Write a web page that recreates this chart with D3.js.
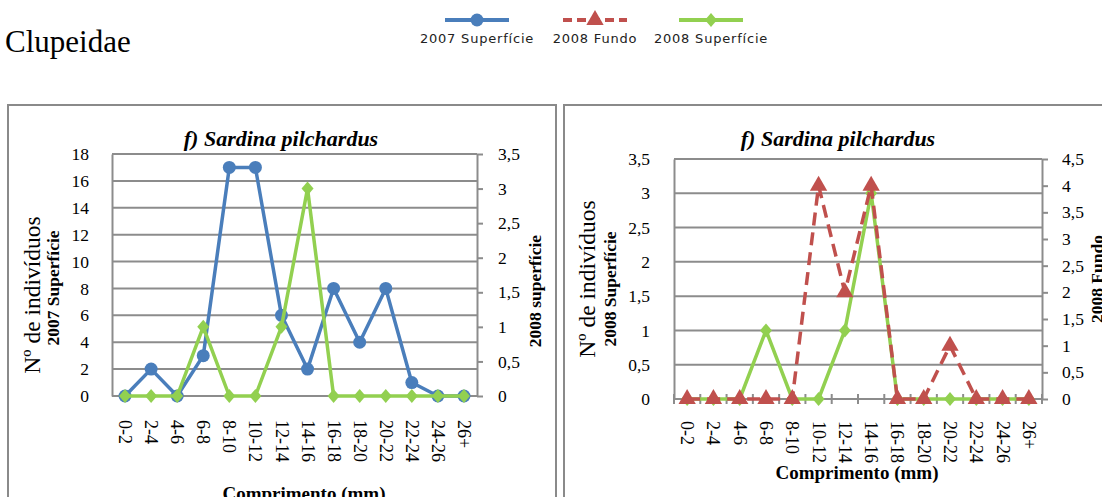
<!DOCTYPE html>
<html>
<head>
<meta charset="utf-8">
<script src="https://cdn.jsdelivr.net/npm/d3@7"></script>
<style>
  body { margin: 0; background: #fff; }
  svg text { font-family: 'Liberation Serif', serif; fill: #000; }
</style>
</head>
<body>
<script>
const W = 1102, H = 497;
const serif = "'Liberation Serif', serif";

// data
const categories = ['0-2', '2-4', '4-6', '6-8', '8-10', '10-12', '12-14', '14-16', '16-18', '18-20', '20-22', '22-24', '24-26', '26+'];
const sup2007 = [0, 2, 0, 3, 17, 17, 6, 2, 8, 4, 8, 1, 0, 0];
const sup2008 = [0, 0, 0, 1, 0, 0, 1, 3, 0, 0, 0, 0, 0, 0];
const fundo2008 = [0, 0, 0, 0, 0, 4, 2, 4, 0, 0, 1, 0, 0, 0];

const ticks18 = [0, 2, 4, 6, 8, 10, 12, 14, 16, 18];
const ticks35 = [0, 0.5, 1, 1.5, 2, 2.5, 3, 3.5];
const ticks45 = [0, 0.5, 1, 1.5, 2, 2.5, 3, 3.5, 4, 4.5];

const legendNames = ['2007 Superfície', '2008 Fundo', '2008 Superfície'];

const blue = '#4a7ebb', red = '#c0504d', green = '#92d050';
const gridCol = '#8c8c8c';
const fmt = d => String(d).replace('.', ',');

const svg = d3.select('body').append('svg')
  .attr('width', W)
  .attr('height', H)
  .attr('font-family', serif)

svg.append('text')
  .attr('x', 5).attr('y', 52)
  .style('font-size', '31px')
  .text('Clupeidae')

// marker shapes
function marker(sel, type, color) {
  if (type === 'circle') {
    sel.append('circle').attr('r', 6.5).attr('fill', color)
  } else if (type === 'diamond') {
    sel.append('path').attr('d', 'M0,-7L6,0L0,7L-6,0Z').attr('fill', color)
  } else {
    sel.append('path').attr('d', d3.symbol(d3.symbolTriangle, 130)()).attr('fill', color)
  }
}

// legend
const legendItems = [
  { name: legendNames[0], color: blue, type: 'circle', dash: null, x: 477 },
  { name: legendNames[1], color: red, type: 'triangle', dash: '9,5', x: 595 },
  { name: legendNames[2], color: green, type: 'diamond', dash: null, x: 711 }
];
legendItems.forEach(it => {
  const g = svg.append('g').attr('transform', `translate(${it.x},20)`)
  g.append('line')
    .attr('x1', -32).attr('x2', 32)
    .attr('stroke', it.color).attr('stroke-width', 4)
    .attr('stroke-dasharray', it.dash)
  marker(g, it.type, it.color)
  svg.append('text')
    .attr('x', it.x).attr('y', 43)
    .attr('text-anchor', 'middle')
    .style('font-family', '"DejaVu Sans", sans-serif')
    .style('font-size', '13px')
    .style('letter-spacing', '0.8px')
    .style('fill', '#222')
    .text(it.name)
})

function drawPanel(p) {
  const g = svg.append('g')

  g.append('rect')
    .attr('x', p.boxX).attr('y', 105)
    .attr('width', p.boxW).attr('height', 420)
    .attr('fill', 'none').attr('stroke', '#8a8a8a').attr('stroke-width', 2)

  const x = d3.scaleBand().domain(categories).range([p.left, p.right]);
  const yL = d3.scaleLinear().domain([0, p.leftTicks[p.leftTicks.length - 1]]).range([p.bottom, p.top]);
  const yR = d3.scaleLinear().domain([0, p.rightTicks[p.rightTicks.length - 1]]).range([p.bottom, p.top]);
  const cx = c => x(c) + x.bandwidth() / 2;

  // gridlines
  g.selectAll('.grid')
    .data(p.leftTicks)
    .enter()
    .append('line')
    .attr('x1', p.left).attr('x2', p.right)
    .attr('y1', d => yL(d)).attr('y2', d => yL(d))
    .attr('stroke', gridCol).attr('stroke-width', 2)

  // left axis
  const axL = g.append('g')
    .attr('transform', `translate(${p.left},0)`)
    .call(d3.axisLeft(yL).tickValues(p.leftTicks).tickFormat(fmt).tickSize(0).tickPadding(p.padL))
  axL.attr('font-family', serif).attr('font-size', 17.5)
  axL.select('.domain').attr('stroke', gridCol).attr('stroke-width', 2)

  // right axis
  const axR = g.append('g')
    .attr('transform', `translate(${p.right},0)`)
    .call(d3.axisRight(yR).tickValues(p.rightTicks).tickFormat(fmt).tickSizeInner(6).tickSizeOuter(0).tickPadding(p.padR))
  axR.attr('font-family', serif).attr('font-size', 17.5)
  axR.select('.domain').attr('stroke', gridCol).attr('stroke-width', 2)
  axR.selectAll('line').attr('stroke', gridCol).attr('stroke-width', 2)

  if (p.boxedPlot) {
    g.append('line')
      .attr('x1', p.left).attr('x2', p.right)
      .attr('y1', p.bottom).attr('y2', p.bottom)
      .attr('stroke', gridCol).attr('stroke-width', 2)
  } else {
    // category tick marks across the base line
    g.selectAll('.xtick')
      .data(categories.concat(['end']))
      .enter()
      .append('line')
      .attr('x1', d => d === 'end' ? p.right : x(d))
      .attr('x2', d => d === 'end' ? p.right : x(d))
      .attr('y1', p.bottom - 5).attr('y2', p.bottom + 5)
      .attr('stroke', gridCol).attr('stroke-width', 2)
  }

  // category labels
  g.selectAll('.xlab')
    .data(categories)
    .enter()
    .append('text')
    .attr('transform', d => `translate(${cx(d)},${p.labelY}) rotate(90)`)
    .attr('dy', '0.33em')
    .style('font-size', '18px')
    .text(d => d)

  // series
  p.series.forEach(s => {
    const y = s.axis === 'left' ? yL : yR;
    const line = d3.line()
      .x((d, i) => cx(categories[i]))
      .y(d => y(d))
    g.append('path')
      .datum(s.values)
      .attr('d', line)
      .attr('fill', 'none')
      .attr('stroke', s.color)
      .attr('stroke-width', 3.5)
      .attr('stroke-linejoin', 'round')
      .attr('stroke-dasharray', s.dash)
    s.values.forEach((v, i) => {
      const mg = g.append('g').attr('transform', `translate(${cx(categories[i])},${y(v)})`)
      marker(mg, s.type, s.color)
    })
  })

  // titles
  g.append('text')
    .attr('x', p.titleX).attr('y', 146)
    .attr('text-anchor', 'middle')
    .style('font-size', '22px').style('font-weight', 'bold').style('font-style', 'italic')
    .text('f) Sardina pilchardus')

  g.append('text')
    .attr('transform', `translate(${p.yTitleX},${p.yTitleY}) rotate(-90)`)
    .attr('text-anchor', 'middle')
    .style('font-size', '23.5px')
    .text('Nº de indivíduos')

  g.append('text')
    .attr('transform', `translate(${p.ySubX},${p.ySubY}) rotate(-90)`)
    .attr('text-anchor', 'middle')
    .style('font-size', '17.5px').style('font-weight', 'bold')
    .text(p.ySub)

  g.append('text')
    .attr('transform', `translate(${p.yRightX},${p.yRightY}) rotate(-90)`)
    .attr('text-anchor', 'middle')
    .style('font-size', '17.5px').style('font-weight', 'bold')
    .text(p.yRight)

  g.append('text')
    .attr('x', p.xTitleX).attr('y', p.xTitleY)
    .attr('text-anchor', 'middle')
    .style('font-size', '19px').style('font-weight', 'bold')
    .text('Comprimento  (mm)')
}

drawPanel({
  boxX: 8, boxW: 548,
  left: 112, right: 477, top: 154, bottom: 396,
  leftTicks: ticks18, rightTicks: ticks35,
  padL: 23, padR: 15,
  boxedPlot: true,
  labelY: 420,
  series: [
    { values: sup2007, axis: 'left', color: blue, type: 'circle', dash: null },
    { values: sup2008, axis: 'right', color: green, type: 'diamond', dash: null }
  ],
  titleX: 281,
  yTitleX: 40, yTitleY: 295,
  ySubX: 59, ySubY: 288, ySub: '2007  Superfície',
  yRightX: 541, yRightY: 291, yRight: '2008 superfície',
  xTitleX: 304, xTitleY: 500
})

drawPanel({
  boxX: 564, boxW: 560,
  left: 674, right: 1042, top: 159, bottom: 399,
  leftTicks: ticks35, rightTicks: ticks45,
  padL: 24, padR: 14,
  boxedPlot: false,
  labelY: 421,
  series: [
    { values: sup2008, axis: 'left', color: green, type: 'diamond', dash: null },
    { values: fundo2008, axis: 'right', color: red, type: 'triangle', dash: '13,7' }
  ],
  titleX: 838,
  yTitleX: 595, yTitleY: 279,
  ySubX: 616, ySubY: 289, ySub: '2008 Superfície',
  yRightX: 1103, yRightY: 279, yRight: '2008 Fundo',
  xTitleX: 857, xTitleY: 479
})
</script>
</body>
</html>
